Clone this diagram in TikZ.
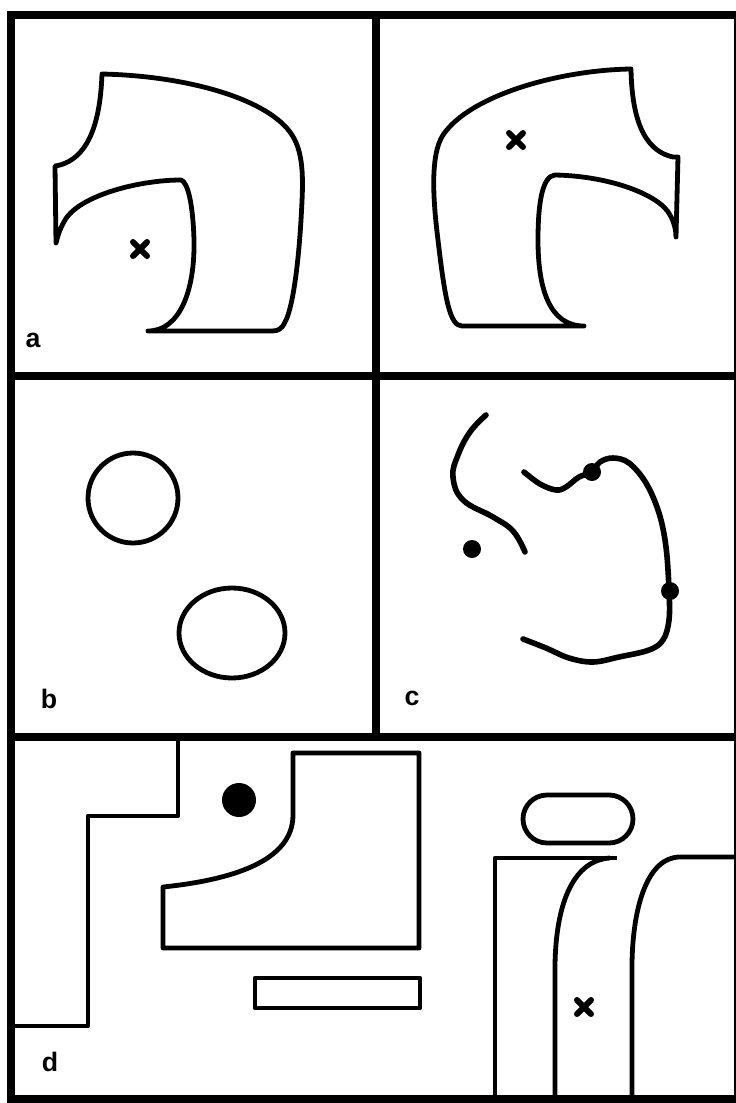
\documentclass[tikz,border=0pt]{standalone}
\usepackage{fontspec}
\setsansfont{Liberation Sans}
\usetikzlibrary{positioning}

\begin{document}
\begin{tikzpicture}[x=0.25mm,y=-0.25mm,
  borderline/.style={line width=2mm},
  shapeline/.style={line width=1.2mm,line join=round},
  trackline/.style={line width=1.4mm,line cap=round},
  crossline/.style={line width=1.5mm,line cap=round},
  panellabel/.style={anchor=base,inner sep=0pt,font=\sffamily\bfseries\fontsize{19}{19}\selectfont}]
  \useasboundingbox (0,0) rectangle (736,1103);
  % frame and dividers
  \draw[borderline] (11,15) rectangle (738,1099);
  \draw[borderline] (376,15) -- (376,737);
  \draw[borderline] (11,376) -- (738,376);
  \draw[borderline] (11,737) -- (738,737);
  % a, left
  \draw[shapeline] (102,74) .. controls (190,76) and (270,100) .. (292,135)
    .. controls (305,155) and (303,185) .. (301,220)
    .. controls (298,270) and (292,310) .. (285,322)
    .. controls (282,329) and (278,331) .. (272,331) -- (148,331)
    .. controls (180,331) and (195,290) .. (194,240)
    .. controls (193,205) and (188,182) .. (181,180)
    .. controls (140,180) and (80,195) .. (65,220)
    .. controls (58,232) and (57,240) .. (56,243) -- (55,166) -- (60,165)
    .. controls (85,158) and (100,130) .. (102,74) -- cycle;
  % a, right
  \draw[shapeline] (631,69) .. controls (560,70) and (470,95) .. (443,135)
    .. controls (430,155) and (433,200) .. (438,240)
    .. controls (445,300) and (450,326) .. (462,326) -- (584,326)
    .. controls (550,326) and (538,290) .. (538,240)
    .. controls (538,200) and (543,176) .. (555,175)
    .. controls (610,176) and (660,195) .. (670,215)
    .. controls (674,222) and (676,230) .. (676,237) -- (678,157) -- (673,157)
    .. controls (650,152) and (632,130) .. (631,69) -- cycle;
  \foreach \p in {(140,249),(516,140),(584,1007)}
    \draw[crossline] \p ++(-7,-7) -- ++(14,14) \p ++(-7,7) -- ++(14,-14);
  \node[panellabel] (la) at (33,347) {a};
  % b
  \draw[shapeline] (133,498) circle [radius=45];
  \draw[shapeline] (232,633) ellipse [x radius=53, y radius=45];
  \node[panellabel] (lb) at (49,708) {b};
  % c
  \draw[trackline] plot[smooth,tension=0.7] coordinates {(486,415) (470,432) (458,455) (453,477) (463,500) (493,517) (513,531) (525,552)};
  \draw[trackline] plot[smooth,tension=0.6] coordinates {(524,472) (540,484) (556,490) (566,487) (579,477) (592,472) (600,462) (613,458) (629,463) (646,483) (659,513) (666,547) (669,590) (669,620) (663,640) (649,650) (619,657) (593,662) (569,658) (546,648) (523,639)};
  \foreach \p in {(472,549),(592,472),(670,591)}
    \fill \p circle [radius=9];
  \node[panellabel] (lc) at (412,705) {c};
  % d
  \draw[shapeline] (178,737) -- (178,816) -- (88,816) -- (88,1026) -- (11,1026);
  \fill (239,800) circle [radius=17];
  \draw[shapeline] (293,753) -- (419,753) -- (419,948) -- (163,948) -- (163,887)
    .. controls (230,880) and (293,862) .. (293,815) -- cycle;
  \draw[shapeline] (255,978) rectangle (420,1008);
  \draw[shapeline,rounded corners=6mm] (523,795) rectangle (633,843);
  \draw[shapeline] (495,1099) -- (495,858) -- (617,858);
  \draw[shapeline] (610,858) .. controls (575,860) and (556,900) .. (555,965) -- (555,1099);
  \draw[shapeline] (632,1099) -- (632,963) .. controls (633,905) and (648,857) .. (680,857) -- (738,857);
  \node[panellabel] (ld) at (50,1071) {d};
\end{tikzpicture}
\end{document}
